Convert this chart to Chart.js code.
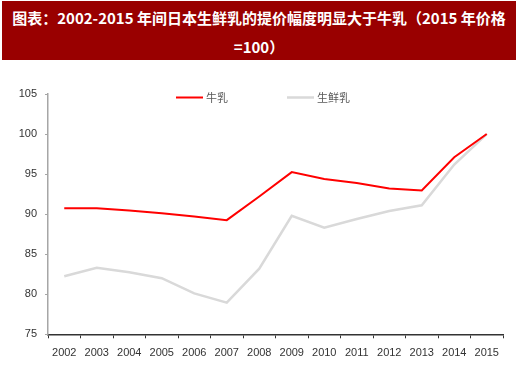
<!DOCTYPE html>
<html>
<head>
<meta charset="utf-8">
<script src="https://cdn.jsdelivr.net/npm/chart.js@4/dist/chart.umd.min.js"></script>
<style>
  html, body { margin: 0; padding: 0; background: #ffffff; }
  #wrap { position: relative; width: 520px; height: 383px; overflow: hidden; }
  #title {
    position: absolute; left: 2px; top: 1px; width: 514px; height: 59px;
    background: #990000; color: #ffffff; text-align: center;
    font-family: "Noto Sans CJK SC", sans-serif; font-weight: bold; font-size: 15px;
    line-height: 29px; padding-top: 2px; box-sizing: border-box; white-space: nowrap; z-index: 2;
  }
  #c { position: absolute; left: 0; top: 0; }
</style>
</head>
<body>
<div id="wrap">
  <div id="title">图表：2002-2015 年间日本生鲜乳的提价幅度明显大于牛乳（2015 年价格<br>=100）</div>
  <canvas id="c" width="520" height="383"></canvas>
</div>
<script>
const years = ["2002","2003","2004","2005","2006","2007","2008","2009","2010","2011","2012","2013","2014","2015"];
const milk = [90.75, 90.75, 90.45, 90.1, 89.7, 89.25, 92.2, 95.25, 94.4, 93.9, 93.2, 92.95, 97.1, 100];
const freshMilk = [82.25, 83.3, 82.75, 82.0, 80.1, 78.95, 83.2, 89.8, 88.3, 89.4, 90.4, 91.1, 96.2, 100];
const seriesNames = ["牛乳", "生鲜乳"];
const yTicks = { min: 75, max: 105, step: 5 };

const legendPlugin = {
  id: 'customLegend',
  afterDraw(chart) {
    const ctx = chart.ctx;
    const y = 97.5;
    const starts = [176, 287];
    ctx.save();
    ctx.font = '11px "Noto Sans CJK SC", sans-serif';
    ctx.textBaseline = 'middle';
    chart.data.datasets.forEach((ds, i) => {
      const x = starts[i];
      ctx.strokeStyle = ds.borderColor;
      ctx.lineWidth = ds.borderWidth;
      ctx.beginPath();
      ctx.moveTo(x, y);
      ctx.lineTo(x + 27, y);
      ctx.stroke();
      ctx.fillStyle = '#595959';
      ctx.fillText(ds.label, x + 30, y);
    });
    ctx.restore();
  }
};

new Chart(document.getElementById('c'), {
  type: 'line',
  data: {
    labels: years,
    datasets: [
      { label: seriesNames[0], data: milk, borderColor: '#ff0000', borderWidth: 2, pointRadius: 0, tension: 0, fill: false },
      { label: seriesNames[1], data: freshMilk, borderColor: '#d9d9d9', borderWidth: 2.5, pointRadius: 0, tension: 0, fill: false }
    ]
  },
  options: {
    responsive: false,
    animation: false,
    events: [],
    layout: { padding: { top: 94, right: 17, left: 0, bottom: 0 } },
    plugins: { legend: { display: false }, tooltip: { enabled: false }, title: { display: false } },
    scales: {
      x: {
        type: 'category',
        offset: true,
        grid: { display: true, drawOnChartArea: false, drawTicks: true, tickLength: 4, offset: true, color: '#333333' },
        border: { display: true, color: '#333333', width: 1.5 },
        ticks: { color: '#333333', font: { family: '"Liberation Sans", Arial, sans-serif', size: 11 }, padding: 8, maxRotation: 0, autoSkip: false },
        afterFit(scale) { scale.height = 48.7; }
      },
      y: {
        min: yTicks.min, max: yTicks.max,
        grid: { display: true, drawOnChartArea: false, drawTicks: true, tickLength: 3, color: '#a6a6a6' },
        border: { display: true, color: '#a6a6a6', width: 1.5 },
        ticks: { stepSize: yTicks.step, color: '#333333', font: { family: '"Liberation Sans", Arial, sans-serif', size: 11 }, padding: 8 },
        afterFit(scale) { scale.width = 48; }
      }
    }
  },
  plugins: [legendPlugin]
});
</script>
</body>
</html>
